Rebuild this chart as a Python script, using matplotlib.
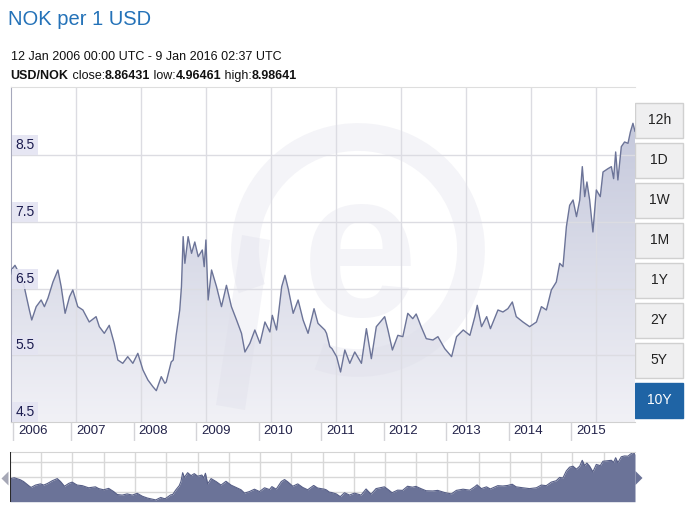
import numpy as np
import pandas as pd
import matplotlib
matplotlib.use("Agg")
import matplotlib.pyplot as plt
import matplotlib.dates as mdates
import matplotlib.transforms as mtransforms
from matplotlib.colors import LinearSegmentedColormap
from matplotlib.patches import Rectangle, Arc, Polygon

plt.rcParams['font.family'] = ['Liberation Sans', 'DejaVu Sans']

# ---------------- data ----------------
dates = [
    "2006-01-12", "2006-01-15", "2006-02-06", "2006-03-13", "2006-04-01", "2006-05-01",
    "2006-05-15", "2006-06-10", "2006-07-09", "2006-07-28", "2006-08-18", "2006-09-16",
    "2006-10-15", "2006-11-03", "2006-11-26", "2006-12-22", "2007-01-10", "2007-02-08",
    "2007-03-10", "2007-04-16", "2007-05-26", "2007-06-14", "2007-07-13", "2007-08-11",
    "2007-09-09", "2007-09-30", "2007-10-29", "2007-11-27", "2007-12-27", "2008-01-25",
    "2008-02-24", "2008-03-24", "2008-04-22", "2008-05-12", "2008-06-10", "2008-07-01",
    "2008-07-09", "2008-07-31", "2008-08-07", "2008-08-19", "2008-09-05", "2008-09-26",
    "2008-10-06", "2008-10-16", "2008-10-26", "2008-11-14", "2008-12-04", "2008-12-23",
    "2009-01-12", "2009-02-05", "2009-02-16", "2009-02-26", "2009-03-11", "2009-03-31",
    "2009-04-29", "2009-05-28", "2009-06-26", "2009-07-25", "2009-08-24", "2009-09-22",
    "2009-10-12", "2009-11-10", "2009-12-09", "2010-01-08", "2010-02-06", "2010-03-07",
    "2010-03-21", "2010-04-15", "2010-05-15", "2010-06-03", "2010-06-22", "2010-07-21",
    "2010-08-19", "2010-09-17", "2010-10-16", "2010-11-20", "2010-12-13", "2011-01-22",
    "2011-02-01", "2011-02-20", "2011-03-05", "2011-04-01", "2011-04-24", "2011-05-19",
    "2011-06-17", "2011-07-16", "2011-08-24", "2011-09-22", "2011-10-21", "2011-11-19",
    "2012-01-07", "2012-01-26", "2012-02-21", "2012-03-24", "2012-04-22", "2012-05-21",
    "2012-06-19", "2012-07-09", "2012-08-07", "2012-09-06", "2012-10-15", "2012-11-13",
    "2012-12-23", "2013-02-01", "2013-03-02", "2013-04-10", "2013-05-19", "2013-06-17",
    "2013-07-01", "2013-07-26", "2013-08-25", "2013-09-16", "2013-10-30", "2013-11-28",
    "2013-12-27", "2014-01-22", "2014-02-14", "2014-03-25", "2014-05-03", "2014-06-12",
    "2014-07-11", "2014-08-09", "2014-09-07", "2014-10-06", "2014-10-26", "2014-11-14",
    "2014-12-04", "2014-12-23", "2015-01-12", "2015-02-01", "2015-02-20", "2015-03-07",
    "2015-03-21", "2015-04-03", "2015-04-19", "2015-05-08", "2015-05-28", "2015-06-20",
    "2015-07-06", "2015-08-04", "2015-08-24", "2015-09-06", "2015-09-18", "2015-10-01",
    "2015-10-21", "2015-11-09", "2015-11-29", "2015-12-13", "2015-12-28", "2016-01-09",
]
rates = [
    6.72, 6.78, 6.85, 6.68, 6.53, 6.18,
    6.03, 6.23, 6.33, 6.23, 6.36, 6.60,
    6.78, 6.53, 6.13, 6.38, 6.48, 6.23,
    6.18, 6.00, 6.08, 5.93, 5.83, 5.95,
    5.68, 5.43, 5.38, 5.48, 5.38, 5.53,
    5.28, 5.13, 5.03, 4.97, 5.18, 5.08,
    5.10, 5.33, 5.40, 5.43, 5.80, 6.18,
    6.53, 7.28, 6.88, 7.28, 7.03, 7.20,
    6.98, 7.08, 6.83, 7.23, 6.33, 6.78,
    6.53, 6.23, 6.55, 6.23, 6.03, 5.83,
    5.55, 5.68, 5.88, 5.68, 6.00, 5.85,
    6.10, 5.88, 6.53, 6.70, 6.50, 6.13,
    6.33, 6.03, 5.83, 6.20, 5.98, 5.88,
    5.83, 5.63, 5.60, 5.48, 5.25, 5.58,
    5.38, 5.55, 5.38, 5.90, 5.45, 5.93,
    6.08, 5.88, 5.58, 5.80, 5.78, 6.13,
    6.05, 6.12, 5.93, 5.75, 5.73, 5.78,
    5.60, 5.48, 5.78, 5.88, 5.80, 6.08,
    6.25, 5.93, 6.08, 5.90, 6.18, 6.15,
    6.20, 6.30, 6.08, 6.00, 5.93, 6.00,
    6.23, 6.18, 6.48, 6.60, 6.88, 6.83,
    7.43, 7.75, 7.83, 7.58, 7.83, 8.33,
    7.88, 8.10, 7.83, 7.35, 7.98, 7.88,
    8.25, 8.30, 8.33, 8.15, 8.55, 8.13,
    8.63, 8.70, 8.68, 8.85, 8.98, 8.86,
]
y_ticks = [5.5, 6.5, 7.5, 8.5]
years = list(range(2006, 2016))
buttons = ["12h", "1D", "1W", "1M", "1Y", "2Y", "5Y", "10Y"]

W, H = 694, 519
def px_rect(x0, y0, x1, y1):
    return [x0 / W, 1 - y1 / H, (x1 - x0) / W, (y1 - y0) / H]

fig = plt.figure(figsize=(W / 100, H / 100), dpi=100)
fig.patch.set_facecolor('white')

x = mdates.date2num(pd.to_datetime(dates))
v = np.array(rates)
ylo, yhi = 4.5, 9.52

# overlay in pixel coords (header, buttons); created first so its transform can be reused
ov = fig.add_axes([0, 0, 1, 1])
ov.set_xlim(0, W); ov.set_ylim(H, 0)
ov.axis('off')
ov.patch.set_alpha(0)

#---------------- main chart -----------------#
ax = fig.add_axes(px_rect(10.7, 87.3, 635, 422))
grad = np.linspace(0, 1, 256).reshape(-1, 1)
cmap = LinearSegmentedColormap.from_list('g', ['#c0c4d9', '#f1f1f6'])
im = ax.imshow(grad, extent=[x[0], x[-1], ylo, yhi], origin='upper', aspect='auto',
               cmap=cmap, zorder=1)
poly = ax.fill_between(x, v, ylo, facecolor='none', edgecolor='none')
im.set_clip_path(poly.get_paths()[0], transform=ax.transData)
ax.plot(x, v, color='#6c7498', lw=1.0, zorder=3)
ax.set_xlim(x[0], x[-1])
ax.set_ylim(ylo, yhi)

for yt in y_ticks:
    ax.axhline(yt, color='#dcdce2', lw=1, zorder=2)
for k in range(1, 10):
    ax.axvline(x[0] + k * 65 / 624.3 * (x[-1] - x[0]), color='#dcdce2', lw=1, zorder=2)

# faint logo behind the line
wm = dict(color='#dcdce8', alpha=0.3, transform=ov.transData, zorder=2.5)
ax.add_patch(Arc((358, 250), 226, 226, theta1=160, theta2=470, lw=20, **wm))
ax.text(360, 262, "e", fontsize=150, fontweight='bold', ha='center', va='center', **wm)
ax.add_patch(Polygon([(242, 235), (270, 240), (245, 410), (216, 405)], closed=True,
                     ec='none', **wm))

ax.set_xticks([]); ax.set_yticks([])
ax.spines['right'].set_visible(False)
ax.spines['left'].set_color('#a6a8bc')
ax.spines['top'].set_color('#dedede')
ax.spines['bottom'].set_color('#d0d0d0')

lab_tr = mtransforms.offset_copy(ax.get_yaxis_transform(), fig=fig, x=4.5, y=3, units='dots')
for yt in [4.5] + y_ticks:
    ax.text(0, yt, f"{yt:.1f}", transform=lab_tr, ha='left', va='bottom', fontsize=10,
            color='#1c1c50', zorder=4,
            bbox=dict(boxstyle='square,pad=0.22', fc='#e4e4f2', ec='none', alpha=0.9))

#---------------- year strip -----------------#
axs = fig.add_axes(px_rect(10.7, 422, 635, 441))
axs.set_xlim(x[0], x[-1]); axs.set_ylim(0, 1)
axs.axis('off')
txt_tr = mtransforms.offset_copy(axs.transData, fig=fig, x=5, y=0, units='dots')
for yr in years:
    xp = max(mdates.date2num(pd.Timestamp(f"{yr}-01-01")), x[0] + 0.04 * 365)
    axs.vlines(xp, 0, 1, color='#d4d4d8', lw=1)
    axs.text(xp, 0.5, str(yr), transform=txt_tr, ha='left', va='center',
             fontsize=9.5, color='#23234a')

#---------------- navigator -----------------#
axn = fig.add_axes(px_rect(10, 451.7, 635, 501.7))
axn.set_xlim(x[0], x[-1]); axn.set_ylim(4.82, 9.06)
for k in range(1, 20):
    axn.axvline(x[0] + k / 20 * (x[-1] - x[0]), color='#d8d8d8', lw=1, zorder=0)
for f in [0.2, 0.5, 0.8]:
    axn.axhline(4.82 + f * (9.06 - 4.82), color='#d8d8d8', lw=1, zorder=0)
axn.fill_between(x, v, 4.82, color='#6b7398', lw=0, zorder=1)
axn.plot(x, v, color='#565e86', lw=0.8, zorder=2)
axn.axvline(x[0], color='#2a2a2a', lw=1.5, zorder=3)
axn.set_xticks([]); axn.set_yticks([])
for s in ['left', 'right', 'bottom']:
    axn.spines[s].set_visible(False)
axn.spines['top'].set_color('#d4d4d4')

# arrows of the navigator
ov.add_patch(Polygon([(1.5, 478.5), (8.5, 471.5), (8.5, 485.5)], fc='#a6a8b6', ec='none'))
ov.add_patch(Polygon([(642.5, 478), (635.5, 471), (635.5, 485)], fc='#6b7398', ec='none'))

# range buttons
for i, b in enumerate(buttons):
    y0 = 102.7 + 40 * i
    sel = b == "10Y"
    ov.add_patch(Rectangle((635, y0), 48.3, 35, fc='#1f64a5' if sel else '#efeff0',
                           ec='#1f64a5' if sel else '#d0d0d0', lw=1))
    ov.text(659.2, y0 + 17.8, b, ha='center', va='center', fontsize=10,
            color='white' if sel else '#222222')

# header
ov.text(8, 25, "NOK per 1 USD", fontsize=14.5, color='#2472b8', va='baseline')
ov.text(10.7, 60.5, "12 Jan 2006 00:00 UTC - 9 Jan 2016 02:37 UTC", fontsize=9,
        color='#111111', va='baseline')
pieces = [("USD/NOK", 'bold'), (" close:", 'normal'), ("8.86431", 'bold'),
          (" low:", 'normal'), ("4.96461", 'bold'), (" high:", 'normal'), ("8.98641", 'bold')]
prev = ov.text(10.7, 79, pieces[0][0], fontsize=9, fontweight='bold', color='#111111',
               va='baseline')
for p, w in pieces[1:]:
    prev = ov.annotate(p, xy=(1, 0), xycoords=prev, va='bottom', ha='left', fontsize=9,
                       fontweight=w, color='#111111', annotation_clip=False)

plt.savefig("out.png", dpi=100)
